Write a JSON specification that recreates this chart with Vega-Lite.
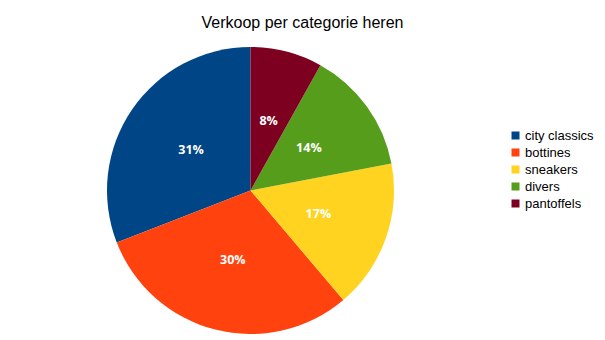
{
  "$schema": "https://vega.github.io/schema/vega-lite/v6.json",
  "width": 287,
  "height": 287,
  "autosize": {"type": "none"},
  "padding": {"top": 47, "left": 107, "right": 211, "bottom": 6},
  "background": "white",
  "title": {
    "text": "Verkoop per categorie heren",
    "font": "Liberation Sans",
    "fontSize": 16,
    "fontWeight": "normal",
    "color": "#000000",
    "anchor": "middle",
    "baseline": "alphabetic",
    "offset": 3,
    "dx": 52
  },
  "data": {
    "values": [
      {"categorie": "city classics", "aandeel": 0.309, "idx": 1},
      {"categorie": "bottines", "aandeel": 0.303, "idx": 2},
      {"categorie": "sneakers", "aandeel": 0.168, "idx": 3},
      {"categorie": "divers", "aandeel": 0.139, "idx": 4},
      {"categorie": "pantoffels", "aandeel": 0.081, "idx": 5}
    ]
  },
  "encoding": {
    "theta": {"field": "aandeel", "type": "quantitative", "stack": true},
    "order": {"field": "idx", "type": "quantitative", "sort": "descending"},
    "color": {
      "field": "categorie",
      "type": "nominal",
      "scale": {
        "domain": ["city classics", "bottines", "sneakers", "divers", "pantoffels"],
        "range": ["#004586", "#ff420e", "#ffd320", "#579d1c", "#7e0021"]
      },
      "legend": {
        "title": null,
        "orient": "none",
        "legendX": 402,
        "legendY": 82,
        "symbolType": "square",
        "symbolSize": 64,
        "symbolStrokeWidth": 0,
        "labelFont": "Liberation Sans",
        "labelFontSize": 13,
        "labelColor": "#000000",
        "labelOffset": 3,
        "rowPadding": 3
      }
    }
  },
  "layer": [
    {"mark": {"type": "arc", "outerRadius": 143.5}},
    {
      "mark": {"type": "text", "radius": 72, "font": "Open Sans", "fontWeight": "bold", "fontSize": 12.5, "color": "white"},
      "encoding": {
        "text": {"field": "aandeel", "type": "quantitative", "format": ".0%"},
        "color": {"value": "white"}
      }
    }
  ]
}
